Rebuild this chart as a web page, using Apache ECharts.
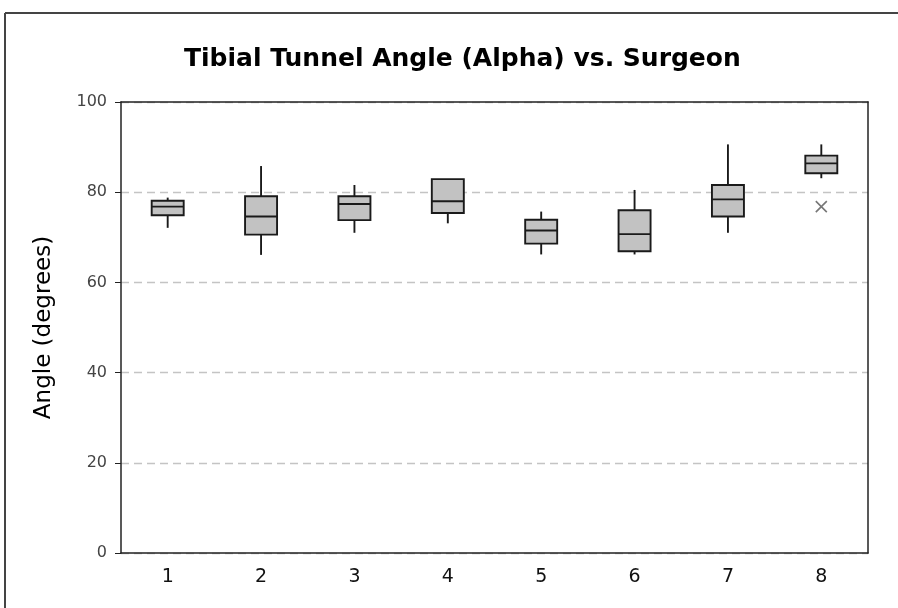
<!DOCTYPE html>
<html>
<head>
<meta charset="utf-8">
<script src="https://cdn.jsdelivr.net/npm/echarts@6/dist/echarts.min.js"></script>
<style>html,body{margin:0;padding:0;background:#fff;}#c{width:898px;height:608px;}</style>
</head>
<body>
<div id="c"></div>
<script>
const categories = ['1','2','3','4','5','6','7','8'];
const whiskerLow  = [72.1, 66.1, 71.0, 73.1, 66.2, 66.2, 71.0, 83.1];
const q1          = [74.9, 70.6, 73.8, 75.4, 68.6, 66.9, 74.6, 84.2];
const medians     = [76.8, 74.6, 77.4, 78.0, 71.5, 70.7, 78.4, 86.4];
const q3          = [78.1, 79.1, 79.1, 82.9, 73.9, 76.0, 81.6, 88.1];
const whiskerHigh = [78.8, 85.8, 81.6, 82.9, 75.7, 80.5, 90.6, 90.6];
const outliers = [['8', 76.8]];
const yTicks = [0, 20, 40, 60, 80, 100];

const boxData = categories.map((c, i) => [i, whiskerLow[i], q1[i], medians[i], q3[i], whiskerHigh[i]]);

function renderBox(params, api) {
  const ci = api.value(0);
  const x = api.coord([ci, 0])[0];
  const yv = [1,2,3,4,5].map(k => api.coord([ci, api.value(k)])[1]);
  const hw = 16;
  const stroke = {stroke: '#1a1a1a', lineWidth: 1.9};
  return {
    type: 'group',
    children: [
      {type: 'line', shape: {x1: x, y1: yv[1], x2: x, y2: yv[0]}, style: stroke},
      {type: 'line', shape: {x1: x, y1: yv[3], x2: x, y2: yv[4]}, style: stroke},
      {type: 'rect', shape: {x: x - hw, y: yv[3], width: 2 * hw, height: yv[1] - yv[3]},
        style: {fill: '#c2c2c2', stroke: '#1a1a1a', lineWidth: 1.9}},
      {type: 'line', shape: {x1: x - hw, y1: yv[2], x2: x + hw, y2: yv[2]}, style: stroke}
    ]
  };
}

const chart = echarts.init(document.getElementById('c'), null, {renderer: 'canvas'});
chart.setOption({
  animation: false,
  backgroundColor: '#fff',
  title: {
    text: 'Tibial Tunnel Angle (Alpha) vs. Surgeon',
    left: 179,
    top: 42,
    textStyle: {fontFamily: 'DejaVu Sans', fontWeight: 'bold', fontSize: 25, color: '#000'}
  },
  grid: {left: 121, right: 30, top: 102, bottom: 55, show: false},
  xAxis: [
    {
      type: 'category',
      data: categories,
      boundaryGap: true,
      z: 5,
      axisLine: {onZero: false, lineStyle: {color: '#222', width: 1.5}},
      axisTick: {alignWithLabel: true, length: 6, lineStyle: {color: '#222'}},
      axisLabel: {fontFamily: 'DejaVu Sans', fontSize: 19, color: '#111', margin: 15},
      splitLine: {show: false}
    },
    {
      type: 'category',
      data: categories,
      position: 'top',
      z: 5,
      axisLine: {show: true, onZero: false, lineStyle: {color: '#222', width: 1.5}},
      axisTick: {show: false},
      axisLabel: {show: false},
      splitLine: {show: false}
    }
  ],
  yAxis: [
    {
      type: 'value',
      min: yTicks[0], max: yTicks[yTicks.length - 1], interval: 20,
      name: 'Angle (degrees)',
      nameLocation: 'middle',
      nameGap: 65,
      nameTextStyle: {fontFamily: 'DejaVu Sans', fontSize: 23, color: '#000'},
      axisLine: {show: true, onZero: false, lineStyle: {color: '#222', width: 1.5}},
      axisTick: {show: true, length: 6, lineStyle: {color: '#222'}},
      axisLabel: {fontFamily: 'DejaVu Sans', fontSize: 16, color: '#444', margin: 14},
      splitLine: {show: true, lineStyle: {color: '#c4c4c4', type: [8, 5], width: 1.3}}
    },
    {
      type: 'value',
      min: yTicks[0], max: yTicks[yTicks.length - 1], interval: 20,
      position: 'right',
      z: 5,
      axisLine: {show: true, onZero: false, lineStyle: {color: '#222', width: 1.5}},
      axisTick: {show: false},
      axisLabel: {show: false},
      splitLine: {show: false}
    }
  ],
  series: [
    {
      type: 'custom',
      renderItem: renderBox,
      data: boxData,
      encode: {x: 0, y: [1, 2, 3, 4, 5]},
      z: 3
    },
    {
      type: 'scatter',
      data: outliers,
      symbol: 'path://M0,0L10,10M10,0L0,10',
      symbolSize: 11,
      itemStyle: {color: 'none', borderColor: '#555', borderWidth: 1.6}
    }
  ],
  graphic: [
    {type: 'line', shape: {x1: 5, y1: 13, x2: 898, y2: 13}, style: {stroke: '#444', lineWidth: 2}},
    {type: 'line', shape: {x1: 5, y1: 13, x2: 5, y2: 608}, style: {stroke: '#444', lineWidth: 2}}
  ]
});
</script>
</body>
</html>
